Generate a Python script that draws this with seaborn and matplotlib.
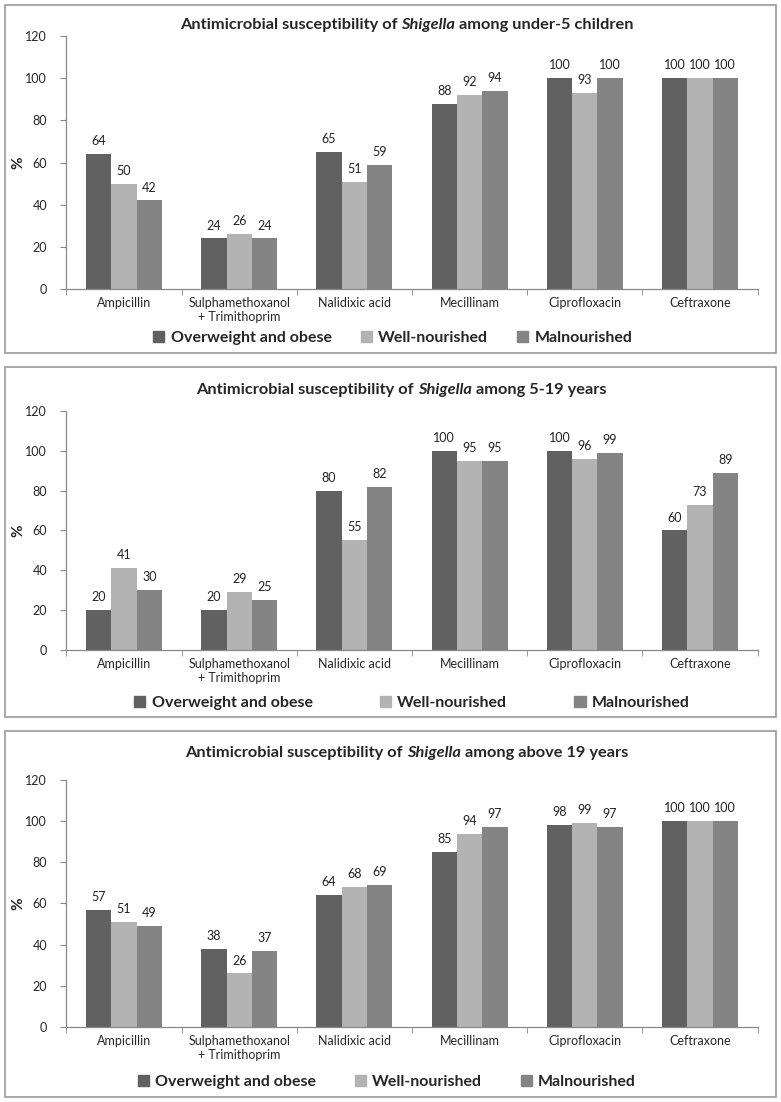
import matplotlib
matplotlib.use("Agg")
import matplotlib.pyplot as plt
import pandas as pd
import seaborn as sns
from matplotlib.patches import Rectangle

drugs = ['Ampicillin', 'Sulphamethoxanol\n+ Trimithoprim', 'Nalidixic acid',
         'Mecillinam', 'Ciprofloxacin', 'Ceftraxone']
groups = ['Overweight and obese', 'Well-nourished', 'Malnourished']
colors = ['#616161', '#b3b3b3', '#848484']

# panel 1: under-5 children
u5_over = [64, 24, 65, 88, 100, 100]
u5_well = [50, 26, 51, 92, 93, 100]
u5_mal = [42, 24, 59, 94, 100, 100]
# panel 2: 5-19 years
y519_over = [20, 20, 80, 100, 100, 60]
y519_well = [41, 29, 55, 95, 96, 73]
y519_mal = [30, 25, 82, 95, 99, 89]
# panel 3: above 19 years
a19_over = [57, 38, 64, 85, 98, 100]
a19_well = [51, 26, 68, 94, 99, 100]
a19_mal = [49, 37, 69, 97, 97, 100]

panels = [
    ('among under-5 children', [u5_over, u5_well, u5_mal]),
    ('among 5-19 years', [y519_over, y519_well, y519_mal]),
    ('among above 19 years', [a19_over, a19_well, a19_mal]),
]

sns.set_style('white')
plt.rcParams['font.family'] = ['Lato', 'DejaVu Sans']

fig = plt.figure(figsize=(7.81, 11.02), dpi=100)

# (box bottom, box height, axes bottom, axes height, title y, title x,
#  legend y, legend x, legend column spacing)
layout = [
    (0.6797, 0.3158, 0.7377, 0.2296, 0.9775, 0.521, 0.6935, 0.503, 1.8),
    (0.3494, 0.3176, 0.4102, 0.2169, 0.6460, 0.514, 0.3620, 0.5275, 4.2),
    (0.0045, 0.3322, 0.0681, 0.2241, 0.3165, 0.521, 0.0180, 0.4955, 2.4),
]

ax_left, ax_width = 0.085, 0.885

for (suffix, series), (bb, bh, ab, ah, ty, tx, ly, lx, cs) in zip(panels, layout):
    fig.patches.append(Rectangle((0.0064, bb), 0.987, bh, transform=fig.transFigure,
                                 fill=False, edgecolor='#9a9a9a', linewidth=1.2))
    ax = fig.add_axes([ax_left, ab, ax_width, ah])
    df = pd.DataFrame({
        'drug': drugs * 3,
        'group': [g for g in groups for _ in drugs],
        'value': series[0] + series[1] + series[2],
    })
    sns.barplot(data=df, x='drug', y='value', hue='group', order=drugs, hue_order=groups,
                palette=colors, width=0.66, saturation=1, linewidth=0, ax=ax, legend=False)
    for c in ax.containers:
        ax.bar_label(c, fmt='%d', padding=5, fontsize=9, color='#222222')

    ax.set_ylim(0, 120)
    ax.set_yticks(range(0, 121, 20))
    ax.set_xlim(-0.5, 5.5)
    ax.set_xlabel('')
    ax.set_ylabel('%', fontsize=11, fontweight='bold')
    ax.yaxis.set_label_coords(-0.06, 0.5)
    ax.tick_params(axis='y', labelsize=9, length=4, direction='out', left=True,
                   color='#888888', pad=10)
    ax.tick_params(axis='x', labelsize=9, length=0, pad=6)
    ax.set_xticks([i - 0.5 for i in range(7)], minor=True)
    ax.tick_params(axis='x', which='minor', length=4, bottom=True, color='#888888')
    for s in ['top', 'right']:
        ax.spines[s].set_visible(False)
    for s in ['left', 'bottom']:
        ax.spines[s].set_color('#888888')
        ax.spines[s].set_linewidth(0.9)

    # title with italic genus name
    parts = [('Antimicrobial susceptibility of ', 'normal'), ('Shigella', 'italic'),
             (' ' + suffix, 'normal')]
    renderer = fig.canvas.get_renderer()
    texts = []
    for txt, style in parts:
        t = fig.text(0, ty, txt, fontsize=11.8, fontweight='bold', style=style, va='center')
        texts.append(t)
    widths = [t.get_window_extent(renderer).width / fig.bbox.width for t in texts]
    x = tx - sum(widths) / 2
    for t, w in zip(texts, widths):
        t.set_x(x)
        x += w

    handles = [Rectangle((0, 0), 1, 1, color=c) for c in colors]
    fig.legend(handles, groups, loc='center', bbox_to_anchor=(lx, ly), ncol=3,
               frameon=False, prop={'size': 11.5, 'weight': 'bold'}, handlelength=0.7,
               handleheight=0.7, handletextpad=0.4, columnspacing=cs)

fig.savefig('out.png', dpi=100)
